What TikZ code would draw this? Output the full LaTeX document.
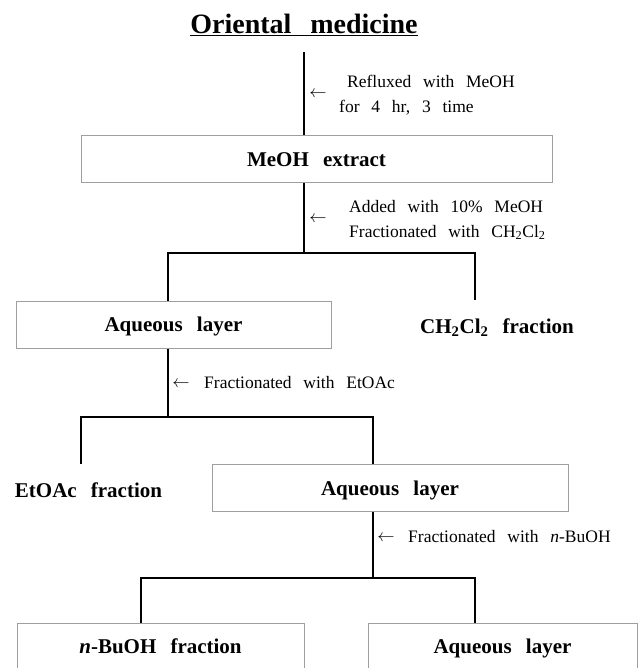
\documentclass[tikz,border=0pt]{standalone}
\usepackage{fontspec}
\setmainfont[WordSpace=2.7]{Liberation Serif}
\usetikzlibrary{positioning, calc}

\begin{document}
\begin{tikzpicture}[
    x=1pt, y=-1pt,
    box/.style={rectangle, draw=gray!75, line width=1pt, minimum height=47pt, inner sep=0pt, text height=14pt, text depth=0pt, font=\fontsize{21}{24}\selectfont\bfseries},
    plain/.style={inner sep=0pt, text height=14pt, text depth=0pt, font=\fontsize{21}{24}\selectfont\bfseries},
    note/.style={anchor=west, align=left, inner sep=0pt, font=\fontsize{17.5}{25}\selectfont},
    tick/.style={inner sep=0pt, font=\fontsize{17}{20}\selectfont},
    flow/.style={line width=1.6pt, black}
]
\useasboundingbox (0,0) rectangle (640,668);

% title and first step
\node[inner sep=0pt, font=\fontsize{28}{32}\selectfont\bfseries] (title) at (304,25) {\underline{Oriental medicine}};
\coordinate (top) at (304,52);
\node[tick] (a1) at (318,94) {$\leftarrow$};
\node[note] (t1) at (339,95) {\hspace*{8pt}Refluxed with MeOH\\for 4 hr, 3 time};

\node[box, minimum width=471pt] (meoh) at (316.5,159.5) {MeOH extract};

% first split
\node[tick] (a2) at (318,219) {$\leftarrow$};
\node[note] (t2) at (349,220) {Added with 10\% MeOH\\Fractionated with CH\textsubscript{2}Cl\textsubscript{2}};
\coordinate (j1) at (304,253);
\coordinate (j1l) at (168,253);
\coordinate (j1r) at (475,253);
\coordinate (e1) at (475,300);

\node[box, minimum width=315pt] (aq1) at (173.5,324.5) {Aqueous layer};
\node[plain] (dcm) at (497,326) {CH\textsubscript{2}Cl\textsubscript{2} fraction};

% second split
\node[tick] (a3) at (181,384) {$\leftarrow$};
\node[note] (t3) at (204,383) {Fractionated with EtOAc};
\coordinate (j2) at (168,417);
\coordinate (j2l) at (81,417);
\coordinate (j2r) at (373,417);
\coordinate (e2) at (81,464);

\node[plain] (etoac) at (88.5,490) {EtOAc fraction};
\node[box, minimum width=356pt] (aq2) at (390,488) {Aqueous layer};

% third split
\node[tick] (a4) at (386,538) {$\leftarrow$};
\node[note] (t4) at (408,537) {Fractionated with \textit{n}-BuOH};
\coordinate (j3) at (373,578);
\coordinate (j3l) at (141,578);
\coordinate (j3r) at (475,578);

\node[box, minimum width=287pt] (buoh) at (160.5,646.5) {\textit{n}-BuOH fraction};
\node[box, minimum width=269pt] (aq3) at (502.5,646.5) {Aqueous layer};

% connectors
\draw[flow] (top) -- (top |- meoh.north);
\draw[flow] (meoh.south -| top) -- (j1);
\draw[flow] (aq1.north -| j1l) -- (j1l) -- (j1r) -- (e1);
\draw[flow] (aq1.south -| j1l) -- (j2);
\draw[flow] (e2) -- (j2l) -- (j2r) -- (aq2.north -| j2r);
\draw[flow] (aq2.south -| j3) -- (j3);
\draw[flow] (buoh.north -| j3l) -- (j3l) -- (j3r) -- (aq3.north -| j3r);
\end{tikzpicture}
\end{document}
